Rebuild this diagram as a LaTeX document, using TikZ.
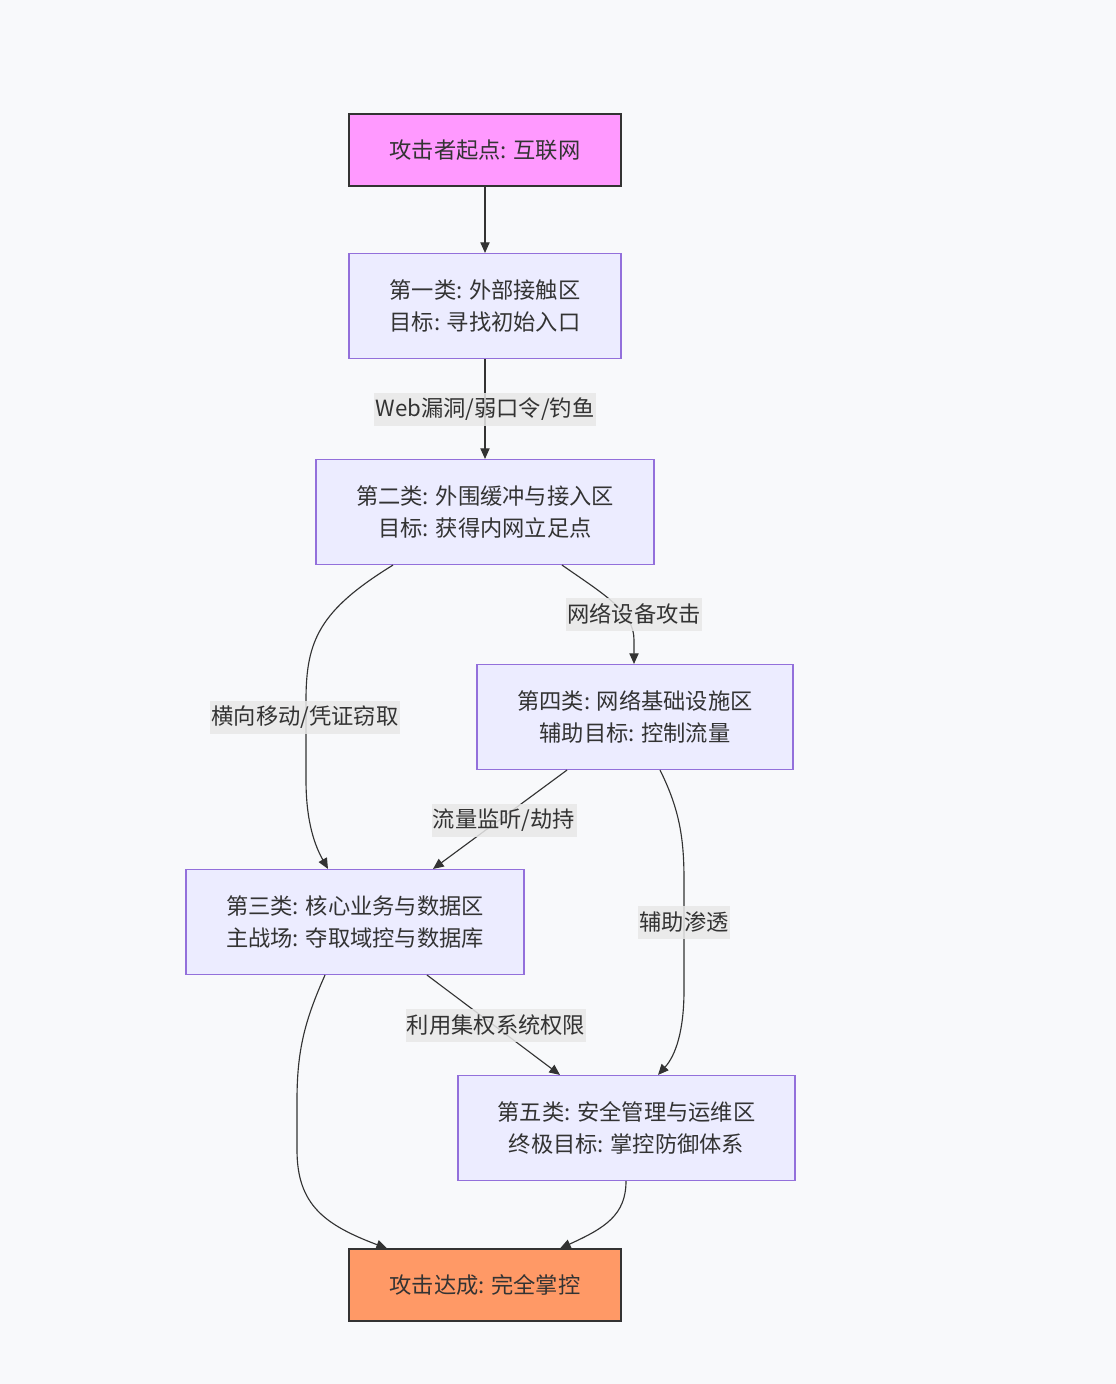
\documentclass[tikz,border=0pt]{standalone}
\usepackage{fontspec}
\setmainfont{Noto Sans CJK SC}
\usetikzlibrary{arrows.meta,calc}
\definecolor{bg}{HTML}{F8F9FB}
\definecolor{nodefill}{HTML}{ECECFF}
\definecolor{nodeline}{HTML}{9370DB}
\definecolor{edgeline}{HTML}{333333}
\definecolor{lblfill}{HTML}{E8E8E8}
\definecolor{pinkfill}{HTML}{FF99FF}
\definecolor{orangefill}{HTML}{FF9966}
\tikzset{
  box/.style={draw=nodeline, fill=nodefill, line width=0.85pt, inner sep=0pt,
    align=center, font=\fontsize{16.7pt}{24pt}\selectfont, text=edgeline,
    minimum height=78.75pt},
  termbox/.style={box, draw=edgeline, minimum height=54pt, minimum width=204pt},
  lbl/.style={fill=lblfill, fill opacity=0.85, text opacity=1, text=edgeline,
    inner xsep=1pt, inner ysep=0pt, minimum height=24.75pt,
    font=\fontsize{16.7pt}{20pt}\selectfont},
  conn/.style={draw=edgeline, line width=0.85pt,
    -{Triangle[length=8pt,width=7pt]}},
}
\begin{document}
\begin{tikzpicture}[x=0.75pt,y=-0.75pt]
\fill[bg] (0,0) rectangle (1116,1384);
\useasboundingbox (0,0) rectangle (1116,1384);

\node[termbox, fill=pinkfill] (A) at (485,150) {攻击者起点: 互联网};
\node[box, minimum width=204pt] (B) at (485,306) {第一类: 外部接触区\\目标: 寻找初始入口};
\node[box, minimum width=253.5pt] (C) at (485,512) {第二类: 外围缓冲与接入区\\目标: 获得内网立足点};
\node[box, minimum width=237pt] (D) at (635,717) {第四类: 网络基础设施区\\辅助目标: 控制流量};
\node[box, minimum width=253.5pt] (E) at (355,922) {第三类: 核心业务与数据区\\主战场: 夺取域控与数据库};
\node[box, minimum width=252.75pt] (F) at (626.5,1128) {第五类: 安全管理与运维区\\终极目标: 掌控防御体系};
\node[termbox, fill=orangefill] (G) at (485,1285) {攻击达成: 完全掌控};

% edges
\draw[conn] (A) -- (B);
\draw[conn] (B) -- (C);
\draw[conn] ($(C.south)+(-92,0)$) .. controls (320,610) and (306,640) .. (306,700)
  -- (306,780) .. controls (306,822) and (315,846) .. ($(E.north)+(-27,0)$);
\draw[conn] ($(C.south)+(77,0)$) .. controls (605,595) and (634,612) .. (634,640)
  -- ($(D.north)+(-1,0)$);
\draw[conn] ($(D.south)+(-68,0)$) -- ($(E.north)+(78,0)$);
\draw[conn] ($(D.south)+(25,0)$) .. controls (680,810) and (684,840) .. (684,880)
  -- (684,990) .. controls (684,1030) and (676,1055) .. ($(F.north)+(31.5,0)$);
\draw[conn] ($(E.south)+(72,0)$) -- ($(F.north)+(-66.5,0)$);
\draw[conn] ($(E.south)+(-30,0)$) .. controls (305,1020) and (297,1050) .. (297,1100)
  -- (297,1150) .. controls (297,1205) and (325,1225) .. ($(G.north)+(-98,0)$);
\draw[conn] ($(F.south)+(-0.5,0)$) .. controls (626,1215) and (605,1228) .. ($(G.north)+(75,0)$);

% labels
\node[lbl] (L1) at (485,409) {Web漏洞/弱口令/钓鱼};
\node[lbl] (L2) at (634,614) {网络设备攻击};
\node[lbl] (L3) at (305,717) {横向移动/凭证窃取};
\node[lbl] (L4) at (504,820) {流量监听/劫持};
\node[lbl] (L5) at (684,922) {辅助渗透};
\node[lbl] (L6) at (496,1025) {利用集权系统权限};
\end{tikzpicture}
\end{document}
